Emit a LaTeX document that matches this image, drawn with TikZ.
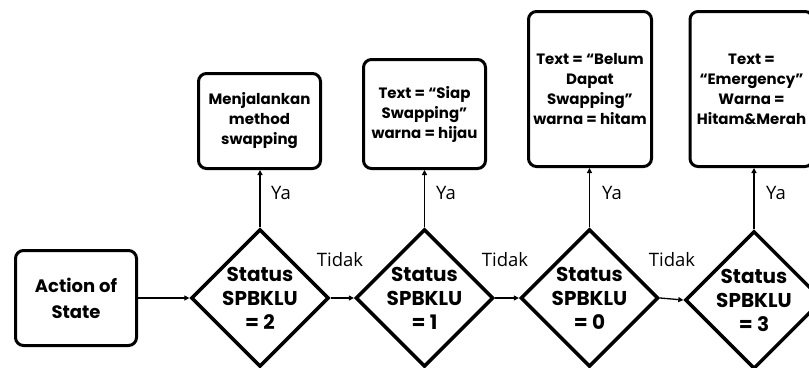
\documentclass[tikz,border=0pt]{standalone}
\usepackage{fontspec}
\setmainfont{Poppins}
\newfontfamily\labfont{Open Sans}
\usetikzlibrary{shapes.geometric,arrows.meta}
\begin{document}
\begin{tikzpicture}[x=1pt,y=-1pt,
 box/.style={draw,line width=3pt,rounded corners=8pt,align=center,font=\bfseries\fontsize{15}{20}\selectfont,inner sep=0pt},
 dec/.style={draw,diamond,line width=3.5pt,aspect=1,minimum width=133pt,minimum height=133pt,inner sep=0pt,align=center,font=\bfseries\fontsize{20}{24}\selectfont},
 arr/.style={-{Triangle[length=5pt,width=5pt]},line width=1.3pt},
 lab/.style={font=\labfont\fontsize{18.5}{22}\selectfont,inner sep=0pt}]
\useasboundingbox (0,0) rectangle (809,367);
\clip (0,0) rectangle (809,367);
\node[box,minimum width=121pt,minimum height=95pt,font=\bfseries\fontsize{18}{26}\selectfont] (act) at (76,298) {Action of\\State};
\node[dec] (d1) at (260,298) {Status\\SPBKLU\\= 2};
\node[dec] (d2) at (424.5,298) {Status\\SPBKLU\\= 1};
\node[dec] (d3) at (589.5,298) {Status\\SPBKLU\\= 0};
\node[dec] (d4) at (754,300) {Status\\SPBKLU\\= 3};
\node[box,minimum width=122pt,minimum height=95pt] (b1) at (259.5,121) {Menjalankan\\method\\swapping};
\node[box,minimum width=122pt,minimum height=109pt] (b2) at (424.5,114) {Text = “Siap\\Swapping”\\warna = hijau};
\node[box,minimum width=123pt,minimum height=155pt] (b3) at (590,89) {Text = “Belum\\Dapat\\Swapping”\\warna = hitam};
\node[box,minimum width=123pt,minimum height=155pt] (b4) at (751.5,89) {Text =\\“Emergency”\\Warna =\\Hitam\&Merah};
\draw[arr] (act) -- (d1);
\draw[arr] (d1) -- (d2);
\draw[arr] (d2) -- (d3);
\draw[arr] (d3.east) -- (d4.west);
\draw[arr] (d1.north) -- (d1.north |- b1.south);
\draw[arr] (d2.north) -- (d2.north |- b2.south);
\draw[arr] (d3.north) -- (d3.north |- b3.south);
\draw[arr] (d4.north) -- (d4.north |- b4.south);
\node[lab] (t1) at (340,260) {Tidak};
\node[lab] (t2) at (505,260) {Tidak};
\node[lab] (t3) at (672,260) {Tidak};
\node[lab] (y1) at (281,193) {Ya};
\node[lab] (y2) at (446,193) {Ya};
\node[lab] (y3) at (612,193) {Ya};
\node[lab] (y4) at (776,193) {Ya};
\end{tikzpicture}
\end{document}
